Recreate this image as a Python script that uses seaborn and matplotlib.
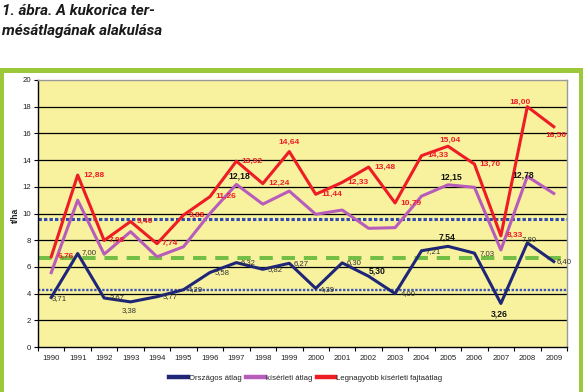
import numpy as np
import pandas as pd
import matplotlib
matplotlib.use("Agg")
import matplotlib.pyplot as plt
import seaborn as sns
from matplotlib.lines import Line2D
from matplotlib.patches import Rectangle

# ---------------- data ----------------
years = list(range(1990, 2010))
orszagos = [3.71, 7.00, 3.67, 3.38, 3.77, 4.29, 5.58, 6.32, 5.82, 6.27,
            4.39, 6.30, 5.30, 4.00, 7.21, 7.54, 7.03, 3.26, 7.80, 6.40]
kiserleti = [5.57, 11.00, 6.95, 8.64, 6.76, 7.51, 10.00, 12.18, 10.70, 11.68,
             9.94, 10.26, 8.89, 8.94, 11.30, 12.15, 11.96, 7.27, 12.78, 11.50]
legnagyobb = [6.76, 12.88, 7.98, 9.40, 7.74, 9.88, 11.26, 13.92, 12.24, 14.64,
              11.44, 12.33, 13.48, 10.79, 14.33, 15.04, 13.70, 8.33, 18.00, 16.50]
series_names = ["Országos átlag", "kísérleti átlag", "Legnagyobb kísérleti fajtaátlag"]
ref_blue_high = 9.57
ref_green = 6.69
ref_blue_low = 4.25
yticks = list(range(0, 21, 2))

# label offsets in pixels (dx right, dy down)
red_off = [(15, 0), (16, 0), (13, 0), (14, 0), (13, 0), (13, 0), (16, 0), (16, 0), (16, 0), (0, -9),
           (16, 0), (16, 0), (16, 0), (16, 0), (16, 0), (2, -6), (16, 0), (14, 0), (-7, -4), (2, 9)]
blue_off = [(8, 1), (11, -1), (13, 0), (-1, 9), (13, 0), (12, 0), (12, 0), (12, 0), (12, 0), (12, 0),
            (12, 1), (12, 0), (9, -5), (13, 0), (12, 1), (-1, -9), (13, 0), (-2, 11), (2, -3), (10, 0)]
blue_bold = {2002, 2005, 2007}
purple_labels = {1997: (3, -8), 2005: (3, -8), 2008: (-4, -1)}

colors = {"Országos átlag": "#1F2677",
          "kísérleti átlag": "#B85CBB",
          "Legnagyobb kísérleti fajtaátlag": "#EE1C25"}

df = pd.DataFrame({
    "year": years * 3,
    "value": orszagos + kiserleti + legnagyobb,
    "series": [series_names[0]] * 20 + [series_names[1]] * 20 + [series_names[2]] * 20,
})

W, H = 583, 392
fig = plt.figure(figsize=(W / 100, H / 100), dpi=100)
fig.patch.set_facecolor("white")

# green frame
fig.add_artist(Rectangle((1.0 / W, -0.1), 579.5 / W, (1 - 69.5 / H) + 0.1,
                         transform=fig.transFigure, fill=False,
                         edgecolor="#9DC83B", linewidth=3.6, zorder=0))

ax = fig.add_axes([38 / W, 1 - 347 / H, 529 / W, 267 / H])
ax.set_facecolor("#F8F29E")

for y in yticks[1:-1]:
    ax.axhline(y, color="black", lw=0.9, zorder=1)

ax.axhline(ref_blue_low, color="#3C53B5", lw=1.7, linestyle=(0, (1, 0.7)), zorder=2)
ax.axhline(ref_green, color="#73BE44", lw=2.9, linestyle=(0, (3.3, 2.2)), zorder=2)
ax.axhline(ref_blue_high, color="#3049B0", lw=2.2, linestyle=(0, (1.1, 0.7)), zorder=2)

sns.lineplot(data=df, x="year", y="value", hue="series", palette=colors,
             hue_order=series_names, linewidth=2.2, legend=False, ax=ax, zorder=3)

ax.set_xlim(1989.5, 2009.5)
ax.set_ylim(0, 20)
ax.set_yticks(yticks)
ax.set_yticklabels([str(v) for v in yticks])
ax.set_xticks(years)
ax.set_xticklabels([str(y) for y in years])
ax.set_xticks(np.arange(1989.5, 2010.0, 1.0), minor=True)
ax.tick_params(axis="x", which="major", length=0, pad=6, labelsize=5.6, labelcolor="#222222")
ax.tick_params(axis="x", which="minor", length=3, width=0.8, color="black", direction="out")
ax.tick_params(axis="y", which="major", length=3, width=0.8, color="black", pad=2,
               labelsize=5.6, labelcolor="#222222")
for lab in ax.get_xticklabels() + ax.get_yticklabels():
    lab.set_family("Liberation Sans")
ax.set_xlabel("")
ax.set_ylabel("")
for s in ["top", "right"]:
    ax.spines[s].set_color("#9A9A9A")
    ax.spines[s].set_linewidth(1.0)
for s in ["left", "bottom"]:
    ax.spines[s].set_color("black")
    ax.spines[s].set_linewidth(1.0)

fmt = lambda v: f"{v:.2f}".replace(".", ",")

for yr, v, (dx, dy) in zip(years, legnagyobb, red_off):
    ax.annotate(fmt(v), (yr, v), xytext=(dx, -dy), textcoords="offset pixels",
                ha="center", va="center", fontsize=6, fontweight="bold",
                color="#EE1C25", family="Liberation Sans", zorder=5)
for yr, v, (dx, dy) in zip(years, orszagos, blue_off):
    bold = yr in blue_bold
    ax.annotate(fmt(v), (yr, v), xytext=(dx, -dy), textcoords="offset pixels",
                ha="center", va="center", fontsize=6.2 if bold else 5.6,
                fontweight="bold" if bold else "normal",
                color="#111111" if bold else "#333333", family="Liberation Sans", zorder=5)
for yr, (dx, dy) in purple_labels.items():
    v = kiserleti[years.index(yr)]
    ax.annotate(fmt(v), (yr, v), xytext=(dx, -dy), textcoords="offset pixels",
                ha="center", va="center", fontsize=6.2, fontweight="bold",
                color="#111111", family="Liberation Sans", zorder=5)

handles = [Line2D([0], [0], color=colors[n], lw=3.2) for n in series_names]
leg = ax.legend(handles, series_names, loc="center", bbox_to_anchor=(0.506, -0.116),
                ncol=3, frameon=False, handlelength=2.4, handletextpad=0.1,
                columnspacing=0.6, prop={"family": "Liberation Sans", "size": 5.6})
for t in leg.get_texts():
    t.set_color("#222222")

fig.text(15 / W, 1 - 215 / H, "t/ha", rotation=90, ha="center", va="center",
         fontsize=6.2, fontweight="bold", family="Liberation Sans", color="#222222")

fig.text(2 / W, 1 - 11 / H, "1. ábra. A kukorica ter-", ha="left", va="center",
         fontsize=11, fontweight="bold", fontstyle="italic", family="Roboto", color="#1A1A1A")
fig.text(2 / W, 1 - 31 / H, "mésátlagának alakulása", ha="left", va="center",
         fontsize=11, fontweight="bold", fontstyle="italic", family="Roboto", color="#1A1A1A")

fig.savefig("out.png", dpi=100, facecolor="white")
